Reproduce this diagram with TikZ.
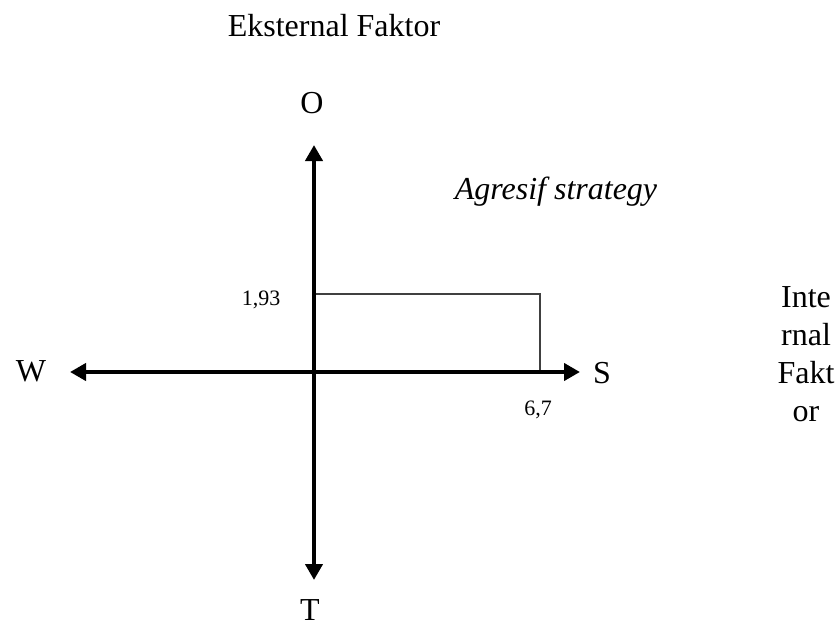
\documentclass[tikz,border=0pt]{standalone}
\usepackage{fontspec}
\setmainfont{Liberation Serif}
\usetikzlibrary{arrows.meta}
\tikzset{
  axis/.style={line width=4.6pt, {Triangle[length=16pt,width=17pt]}-{Triangle[length=16pt,width=17pt]}},
  thinline/.style={line width=1.2pt, draw=black!75},
  biglabel/.style={anchor=base, inner sep=0pt, font=\fontsize{32}{38}\selectfont},
  smalllabel/.style={anchor=base, inner sep=0pt, font=\fontsize{22}{26}\selectfont}
}
\begin{document}
\begin{tikzpicture}[x=1pt,y=-1pt]
\useasboundingbox (0,0) rectangle (840,626);
% axes
\coordinate (top) at (314,145);
\coordinate (bot) at (314,580);
\coordinate (lft) at (70,372);
\coordinate (rgt) at (580,372);
\draw[axis] (bot) -- (top);
\draw[axis] (lft) -- (rgt);
% rectangle
\coordinate (p1) at (316,294);
\coordinate (p2) at (540,294);
\coordinate (p3) at (540,370);
\draw[thinline] (p1) -- (p2) -- (p3);
% labels
\node[biglabel] (ext) at (334,37) {Eksternal Faktor};
\node[biglabel] (o) at (312,113) {O};
\node[biglabel] (t) at (310,620) {T};
\node[biglabel] (w) at (31,381) {W};
\node[biglabel] (s) at (602,383) {S};
\node[biglabel,font=\fontsize{32}{38}\selectfont\itshape] (agr) at (556,199) {Agresif strategy};
\node[smalllabel] (v193) at (261,305) {1,93};
\node[smalllabel] (v67) at (538,415) {6,7};
\node[biglabel] (i1) at (806,307) {Inte};
\node[biglabel] (i2) at (806,345) {rnal};
\node[biglabel] (i3) at (806,383) {Fakt};
\node[biglabel] (i4) at (806,421) {or};
\end{tikzpicture}
\end{document}
